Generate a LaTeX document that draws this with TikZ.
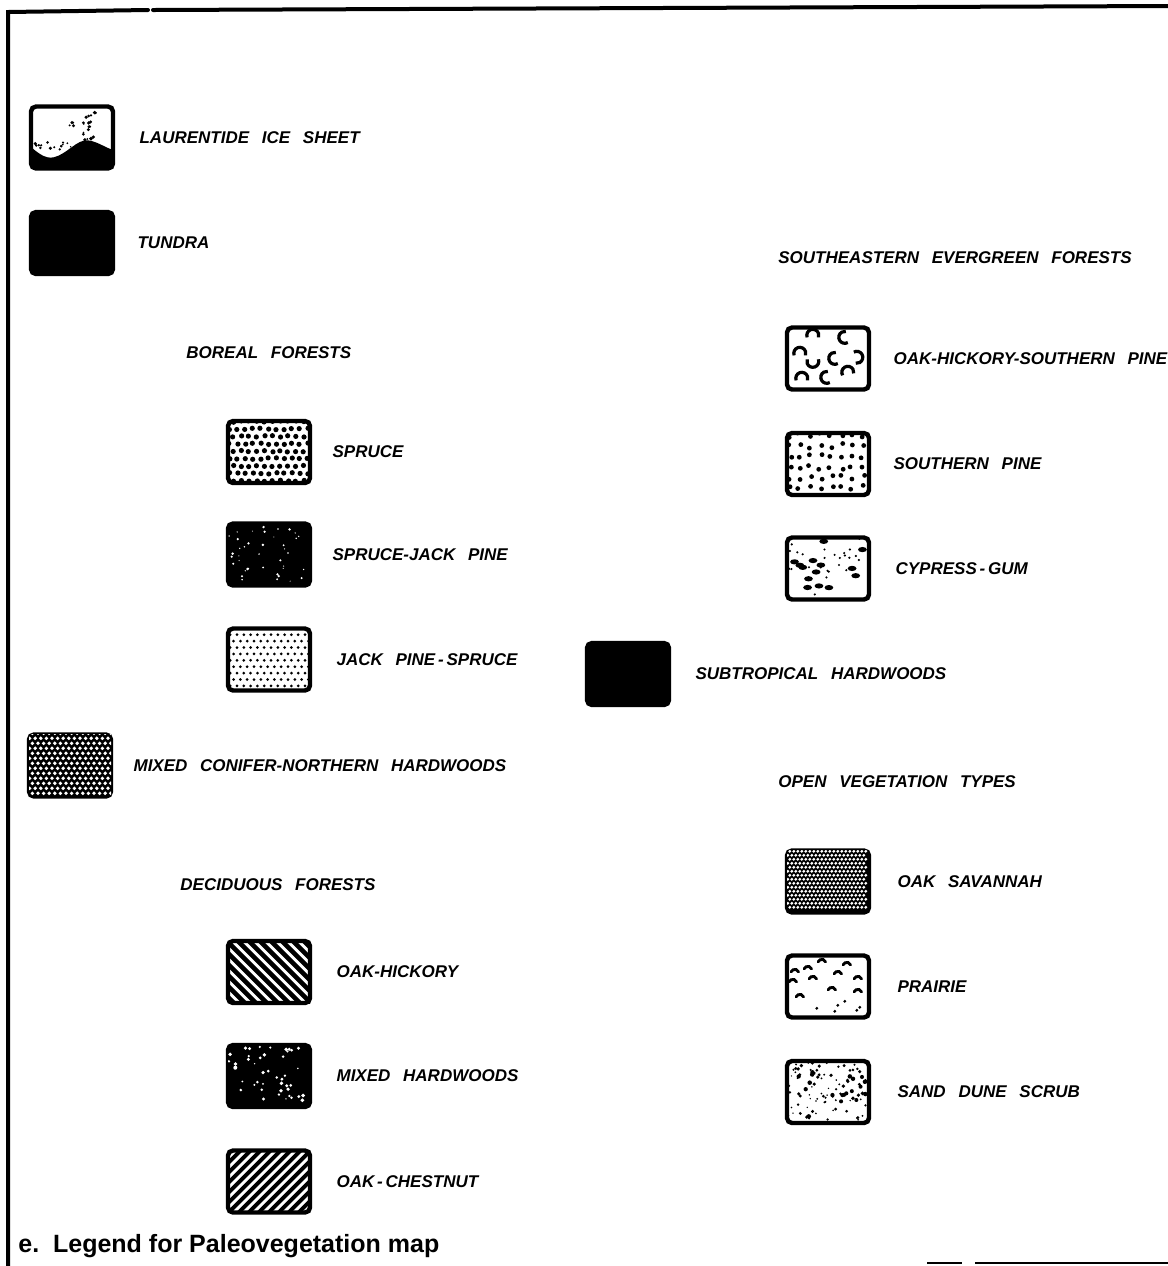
\documentclass[tikz,border=0pt]{standalone}
\usepackage{fontspec}
\setsansfont{Liberation Sans}
\usetikzlibrary{positioning}

% clip a pattern to the inside of a swatch; pattern code uses px from its top left corner
\newcommand{\fillswatch}[2]{%
	\begin{scope}
		\clip ([shift={(1.1pt,-1.1pt)}]#1.north west) rectangle ([shift={(-1.1pt,1.1pt)}]#1.south east);
		\begin{scope}[shift={(#1.north west)}] #2 \end{scope}
	\end{scope}}

\newcommand{\patice}{%
	\fill (-2,39) .. controls (8,48) and (16,55) .. (25,53) .. controls (38,50) and (48,35) .. (59,36)
	.. controls (68,37) and (76,43) .. (85,46) -- (85,65) -- (-2,65) -- cycle;
	\pgfmathsetseed{21}
	\foreach \k in {1,...,22} {
		\pgfmathsetmacro\px{40+rnd*28}\pgfmathsetmacro\py{8+rnd*30}\pgfmathsetmacro\pr{0.4+rnd*0.6}
		\fill (\px,\py) circle (\pr pt);}
	\foreach \k in {1,...,18} {
		\pgfmathsetmacro\px{6+rnd*36}\pgfmathsetmacro\py{34+rnd*16}\pgfmathsetmacro\pr{0.4+rnd*0.6}
		\fill (\px,\py) circle (\pr pt);}}
\newcommand{\patspruce}{%
	\pgfmathsetseed{17}
	\foreach \r in {0,...,8} \foreach \c in {0,...,11} {
		\pgfmathsetmacro\px{\c*7.8+mod(\r,2)*3.9-1+rnd*1.5}\pgfmathsetmacro\py{\r*7.4+2+rnd*1.5}
		\fill (\px,\py) circle (1.3pt);}}
\newcommand{\patsprucejack}{%
	\pgfmathsetseed{7}
	\foreach \k in {1,...,40} {
		\pgfmathsetmacro\px{3+rnd*76}\pgfmathsetmacro\py{4+rnd*56}\pgfmathsetmacro\pr{0.25+rnd*0.45}
		\fill[white] (\px,\py) circle (\pr pt);}}
\newcommand{\patjack}{%
	\foreach \r in {0,...,9} \foreach \c in {0,...,12}
	\fill ({\c*6.8+mod(\r,2)*3.4+1}, {\r*6.4+2}) circle (0.75pt);}
\newcommand{\patconifer}{%
	\foreach \r in {0,...,12} \foreach \c in {0,...,15}
	\fill[white] ({\c*5.6+mod(\r,2)*2.8}, {\r*5+1}) circle (0.95pt);}
\newcommand{\patoakhickory}{%
	\foreach \i in {-70,-59,...,90}
	\draw[line width=2.3pt] (\i,-3) -- ++(70,70);}
\newcommand{\patmixedhard}{%
	\pgfmathsetseed{3}
	\foreach \k in {1,...,45} {
		\pgfmathsetmacro\px{3+rnd*76}\pgfmathsetmacro\py{3+rnd*56}\pgfmathsetmacro\pr{0.3+rnd*0.7}
		\fill[white] (\px,\py) circle (\pr pt);}}
\newcommand{\patoakchestnut}{%
	\foreach \i in {-70,-60,...,90}
	\draw[line width=2pt] (\i,67) -- ++(70,-70);}
\newcommand{\patohsp}{%
	\foreach \ax/\ay/\aa in {28/10/160, 60/12/60, 15/28/160, 28/36/-20, 50/33/60,
		72/32/-120, 17/53/160, 42/52/60, 63/47/150}
	\draw[line width=1.6pt] (\ax,\ay) ++(\aa:6) arc[start angle=\aa, delta angle=220, radius=6];}
\newcommand{\patsouthpine}{%
	\pgfmathsetseed{5}
	\foreach \r in {0,...,5} \foreach \c in {0,...,7} {
		\pgfmathsetmacro\px{\c*10.5+2+rnd*5}\pgfmathsetmacro\py{\r*10.5+2+rnd*5}
		\fill (\px,\py) circle (1.2pt);}}
\newcommand{\patcypress}{%
	\pgfmathsetseed{9}
	\foreach \k in {1,...,14} {
		\pgfmathsetmacro\px{4+rnd*74}\pgfmathsetmacro\py{4+rnd*54}
		\fill (\px,\py) ellipse (2.2pt and 1.3pt);}
	\foreach \k in {1,...,28} {
		\pgfmathsetmacro\px{2+rnd*78}\pgfmathsetmacro\py{2+rnd*58}
		\fill (\px,\py) circle (0.6pt);}}
\newcommand{\patsavannah}{%
	\foreach \r in {1,...,15} \foreach \c in {1,...,20}
	\fill[white] ({\c*4+mod(\r,2)*2-1}, {\r*4-1}) circle (0.8pt);}
\newcommand{\patprairie}{%
	\foreach \cx/\cy in {37/10,62/13,23/17,10/20,53/22,28/27,73/27,8/30,47/38,73/40,15/45}
	\draw[line width=1.4pt, line cap=round] (\cx,\cy) ++(200:4) arc[start angle=200, delta angle=140, radius=4];
	\foreach \cx/\cy in {32/55,50/58,60/48,72/57,53/52,75/54}
	\fill (\cx,\cy) circle (0.8pt);}
\newcommand{\patsanddune}{%
	\pgfmathsetseed{13}
	\foreach \k in {1,...,110} {
		\pgfmathsetmacro\px{1+rnd*80}\pgfmathsetmacro\py{1+rnd*60}\pgfmathsetmacro\pr{0.35+rnd*0.8}
		\fill (\px,\py) circle (\pr pt);}}

\begin{document}
\begin{tikzpicture}[
		x=0.5pt, y=-0.5pt,
		node distance=12pt,
		swatch/.style={
			rectangle, rounded corners=2.5pt,
			draw=black, line width=2.2pt, fill=white,
			minimum width=41pt, minimum height=31pt, inner sep=0pt
		},
		dark/.style={swatch, fill=black},
		lbl/.style={
			font={\fontsize{8.5}{10}\sffamily\bfseries\itshape\spaceskip=0.75em\relax},
			anchor=west, inner sep=0pt
		},
		capt/.style={font={\fontsize{12.5}{14}\sffamily\bfseries}, anchor=west, inner sep=0pt},
		frameline/.style={line width=2pt, line cap=round}
		]
		\useasboundingbox (0,0) rectangle (1168,1266);
		
		% frame
		\draw[frameline] (8,1266) -- (8,12) -- (148,10);
		\draw[frameline] (153,10) -- (1168,6);
		\draw[line width=0.8pt] (927,1263) -- (962,1263) (975,1263) -- (1168,1263);
		
		% left column
		\node[swatch] (ice)    at (72, 137.5) {};
		\node[dark]   (tundra) at (72, 243) {};
		\node[lbl, right=12pt of ice]    (icelbl)    {LAURENTIDE ICE SHEET};
		\node[lbl, right=11pt of tundra] (tundralbl) {TUNDRA};
		
		\node[lbl] (boreal) at (186, 353) {BOREAL FORESTS};
		\node[swatch] (spruce)   at (269, 452) {};
		\node[dark]   (sjpine)   at (269, 554.5) {};
		\node[swatch] (jpspruce) at (269, 659.5) {};
		\node[lbl, right=10pt of spruce]   (sprucelbl)   {SPRUCE};
		\node[lbl, right=10pt of sjpine]   (sjpinelbl)   {SPRUCE-JACK PINE};
		\node[lbl, right=12pt of jpspruce] (jpsprucelbl) {JACK PINE\,-\,SPRUCE};
		
		\node[dark] (conifer) at (70, 765.5) {};
		\node[lbl, right=10pt of conifer] (coniferlbl) {MIXED CONIFER-NORTHERN HARDWOODS};
		
		\node[lbl] (decid) at (180, 885) {DECIDUOUS FORESTS};
		\node[swatch] (oakhick)  at (269, 972) {};
		\node[dark]   (mixhard)  at (269, 1076) {};
		\node[swatch] (oakchest) at (269, 1181.5) {};
		\node[lbl, right=12pt of oakhick]  (oakhicklbl)  {OAK-HICKORY};
		\node[lbl, right=12pt of mixhard]  (mixhardlbl)  {MIXED HARDWOODS};
		\node[lbl, right=12pt of oakchest] (oakchestlbl) {OAK\,-\,CHESTNUT};
		
		% right column
		\node[lbl] (sefor) at (778, 258) {SOUTHEASTERN EVERGREEN FORESTS};
		\node[swatch] (ohsp)    at (828, 358.5) {};
		\node[swatch] (spine)   at (828, 464) {};
		\node[swatch] (cypress) at (828, 568.5) {};
		\node[lbl, right=11pt of ohsp]    (ohsplbl)    {OAK-HICKORY-SOUTHERN PINE};
		\node[lbl, right=11pt of spine]   (spinelbl)   {SOUTHERN PINE};
		\node[lbl, right=12pt of cypress] (cypresslbl) {CYPRESS\,-\,GUM};
		
		\node[dark] (subtrop) at (628, 674) {};
		\node[lbl, right=12pt of subtrop] (subtroplbl) {SUBTROPICAL HARDWOODS};
		
		\node[lbl] (openveg) at (778, 782) {OPEN VEGETATION TYPES};
		\node[dark]   (savannah) at (828, 881.5) {};
		\node[swatch] (prairie)  at (828, 986.5) {};
		\node[swatch] (sanddune) at (828, 1092) {};
		\node[lbl, right=13pt of savannah] (savannahlbl) {OAK SAVANNAH};
		\node[lbl, right=13pt of prairie]  (prairielbl)  {PRAIRIE};
		\node[lbl, right=13pt of sanddune] (sanddunelbl) {SAND DUNE SCRUB};
		
		\node[capt] (caption) at (18, 1246) {e.\ \ Legend for Paleovegetation map};
		
		% swatch patterns
		\fillswatch{ice}{\patice}
		\fillswatch{spruce}{\patspruce}
		\fillswatch{sjpine}{\patsprucejack}
		\fillswatch{jpspruce}{\patjack}
		\fillswatch{conifer}{\patconifer}
		\fillswatch{oakhick}{\patoakhickory}
		\fillswatch{mixhard}{\patmixedhard}
		\fillswatch{oakchest}{\patoakchestnut}
		\fillswatch{ohsp}{\patohsp}
		\fillswatch{spine}{\patsouthpine}
		\fillswatch{cypress}{\patcypress}
		\fillswatch{savannah}{\patsavannah}
		\fillswatch{prairie}{\patprairie}
		\fillswatch{sanddune}{\patsanddune}
\end{tikzpicture}
\end{document}
